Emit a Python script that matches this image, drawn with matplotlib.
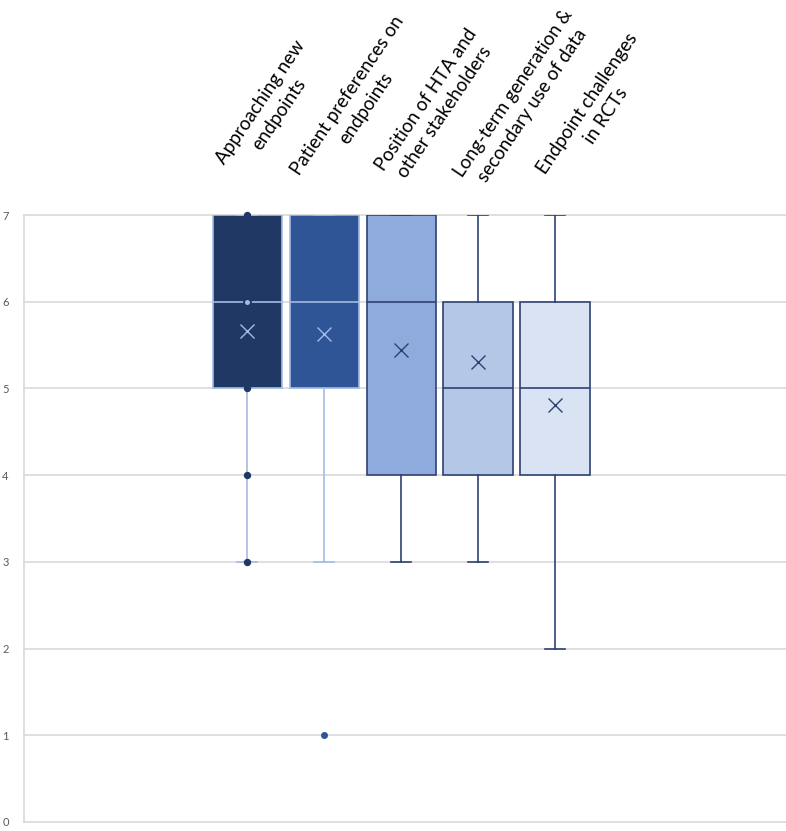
import numpy as np
import matplotlib.pyplot as plt
import matplotlib.transforms as mtransforms

# box plot summary values (scale 0-7)
labels = ["Approaching new\nendpoints",
          "Patient preferences on\nendpoints",
          "Position of HTA and\nother stakeholders",
          "Long-term generation &\nsecondary use of data",
          "Endpoint challenges\nin RCTs"]
q1 = [5, 5, 4, 4, 4]
med = [6, 6, 6, 5, 5]
q3 = [7, 7, 7, 6, 6]
whis_lo = [3, 3, 3, 3, 2]
whis_hi = [7, 7, 7, 7, 7]
means = [5.66, 5.63, 5.44, 5.31, 4.81]
# points shown on the first two boxes
points_1 = [7, 6, 5, 4, 3]
points_2 = [1]

fills = ["#203864", "#2F5597", "#8FAADC", "#B4C7E7", "#DAE3F3"]
edges = ["#A3BBE5", "#A3BBE5", "#2E4272", "#2E4272", "#2E4272"]

# label start offsets (pixels) from the box centre / axes top
lab_dx = [-30, -32, -25, -23, -17]
lab_dy = [55, 44, 48, 42, 45]
ang = 56
line_gap = 26  # px between the two label lines

plt.rcParams['font.family'] = ['Lato', 'DejaVu Sans']

fig = plt.figure(figsize=(7.86, 8.31), dpi=100)
ax = fig.add_axes([24/786, 9/831, 1 - 24/786, (822 - 215)/831])

pos = np.arange(1, 6)
stats = []
for i in range(5):
    stats.append(dict(med=med[i], q1=q1[i], q3=q3[i], whislo=whis_lo[i],
                      whishi=whis_hi[i], mean=means[i], fliers=[]))

for i in range(5):
    ax.bxp([stats[i]], positions=[pos[i]], widths=0.9, capwidths=0.26,
           showmeans=True, patch_artist=True,
           boxprops=dict(facecolor=fills[i], edgecolor=edges[i], linewidth=1.2),
           medianprops=dict(color=edges[i], linewidth=1.2),
           whiskerprops=dict(color=edges[i], linewidth=1.2),
           capprops=dict(color=edges[i], linewidth=1.2),
           meanprops=dict(marker='x', markeredgecolor=edges[i],
                          markersize=10, markeredgewidth=1.0),
           manage_ticks=False, zorder=3)

for v in points_1:
    if v == 6:
        # hollow point sitting on the median line
        ax.plot(pos[0], v, 'o', ms=5, mfc=edges[0], mec="#203864", mew=1.4,
                zorder=5, clip_on=False)
    else:
        ax.plot(pos[0], v, 'o', ms=4, mfc="#203864", mec="#203864", mew=1.3,
                zorder=5, clip_on=False)
for v in points_2:
    ax.plot(pos[1], v, 'o', ms=4, mfc="#2F5597", mec="#2F5597", zorder=5,
            clip_on=False)

ax.set_xlim(-1.9, 8.0)
ax.set_ylim(0, 7)
for y in range(8):
    ax.axhline(y, color="#D9D9D9", lw=1.2, zorder=0, clip_on=False)

ax.set_yticks(range(8))
ax.set_xticks([])
ax.tick_params(axis='y', length=0, pad=11, labelsize=8, labelcolor="#595959")
for s in ['top', 'right', 'bottom']:
    ax.spines[s].set_visible(False)
ax.spines['left'].set_color("#D9D9D9")
ax.spines['left'].set_linewidth(1.2)

# va='baseline' anchors the last line, so shift by one line gap
sx = line_gap * np.sin(np.radians(ang))
sy = line_gap * np.cos(np.radians(ang))
trans = mtransforms.blended_transform_factory(ax.transData, ax.transAxes)
for i in range(5):
    ax.annotate(labels[i], xy=(pos[i], 1.0), xycoords=trans,
                xytext=((lab_dx[i] + sx) * 0.72, (lab_dy[i] - sy) * 0.72),
                textcoords='offset points', rotation=ang,
                rotation_mode='anchor', ha='left', va='baseline',
                multialignment='center', fontsize=13.5, linespacing=1.4,
                annotation_clip=False)

plt.savefig("out.png", dpi=100)
